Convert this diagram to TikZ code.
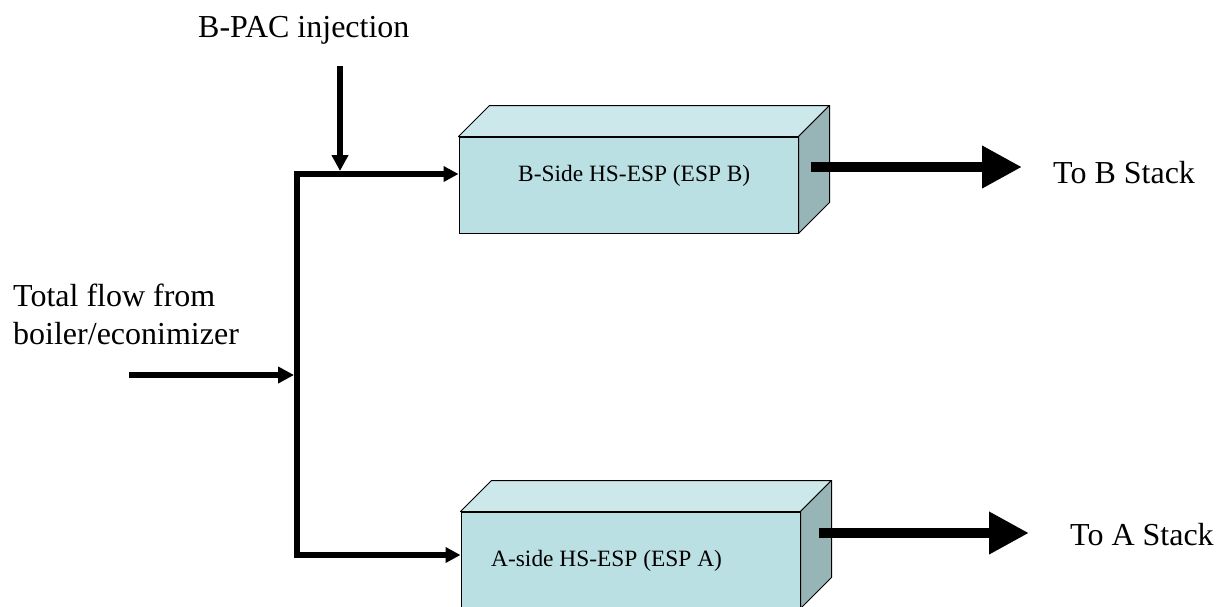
\documentclass[tikz,border=0pt]{standalone}
\usepackage{fontspec}
\setmainfont{Liberation Serif}
\usetikzlibrary{arrows.meta}
\definecolor{espfront}{RGB}{187,224,227}
\definecolor{esptop}{RGB}{204,232,235}
\definecolor{espside}{RGB}{151,180,182}
\tikzset{
  bigtext/.style={font=\fontsize{32}{38}\selectfont, inner sep=0pt},
  boxtext/.style={font=\fontsize{23.4}{28}\selectfont, inner sep=0pt, anchor=base west},
  espface/.style={draw=black, line width=1pt, fill=espfront, inner sep=0pt,
                  minimum width=339pt, minimum height=96pt},
  facetop/.style={draw=black, line width=1pt, fill=esptop, line join=round},
  faceside/.style={draw=black, line width=1pt, fill=espside, line join=round},
  thinflow/.style={line width=6pt, -{Triangle[length=16pt,width=16pt]}},
  splitflow/.style={line width=6pt, line join=miter,
                    {Triangle[length=15pt,width=15pt]}-{Triangle[length=15pt,width=15pt]}},
  thickflow/.style={line width=10pt, -{Triangle[length=40pt,width=40pt]}}
}
\begin{document}
\begin{tikzpicture}[x=1pt,y=-1pt]
\useasboundingbox (0,0) rectangle (1225,606);
\begin{scope}
\clip (0,0) rectangle (1225,606);
% ESP B
\node[espface] (espB) at (628.5,185) {};
\draw[facetop] (espB.north west) -- ++(31,-31) -- ([shift={(31,-31)}]espB.north east) -- (espB.north east) -- cycle;
\draw[faceside] (espB.north east) -- ++(31,-31) -- ([shift={(31,-31)}]espB.south east) -- (espB.south east) -- cycle;
\node[boxtext] (labB) at (518,181) {B-Side HS-ESP (ESP B)};
% ESP A
\node[espface] (espA) at (630.5,560) {};
\draw[facetop] (espA.north west) -- ++(31,-31) -- ([shift={(31,-31)}]espA.north east) -- (espA.north east) -- cycle;
\draw[faceside] (espA.north east) -- ++(31,-31) -- ([shift={(31,-31)}]espA.south east) -- (espA.south east) -- cycle;
\node[boxtext] (labA) at (491,566) {A-side HS-ESP (ESP A)};
\end{scope}

% labels
\node[bigtext, anchor=base west] (bpac) at (198,37) {B-PAC injection};
\node[bigtext, anchor=north west, align=left] (total) at (13,284) {Total flow from\\boiler/econimizer};
\node[bigtext, anchor=base west] (stackB) at (1053,183) {To B Stack};
\node[bigtext, anchor=base west] (stackA) at (1070,545) {To A Stack};

% coordinates
\coordinate (cornerB) at (297,174);
\coordinate (cornerA) at (297,555);
\coordinate (junc) at (294,375);
\coordinate (tfstart) at (129,375);
\coordinate (injtop) at (340,66);
\coordinate (injend) at (340,171);
\coordinate (outBstart) at (811,167);
\coordinate (outBend) at (1022,167);
\coordinate (outAstart) at (819,533);
\coordinate (outAend) at (1029,533);

% flows
\draw[splitflow] (cornerB -| espB.west) -- (cornerB) -- (cornerA) -- (cornerA -| espA.west);
\draw[thinflow] (tfstart) -- (junc);
\draw[thinflow] (injtop) -- (injend);
\draw[thickflow] (outBstart) -- (outBend);
\draw[thickflow] (outAstart) -- (outAend);
\end{tikzpicture}
\end{document}
